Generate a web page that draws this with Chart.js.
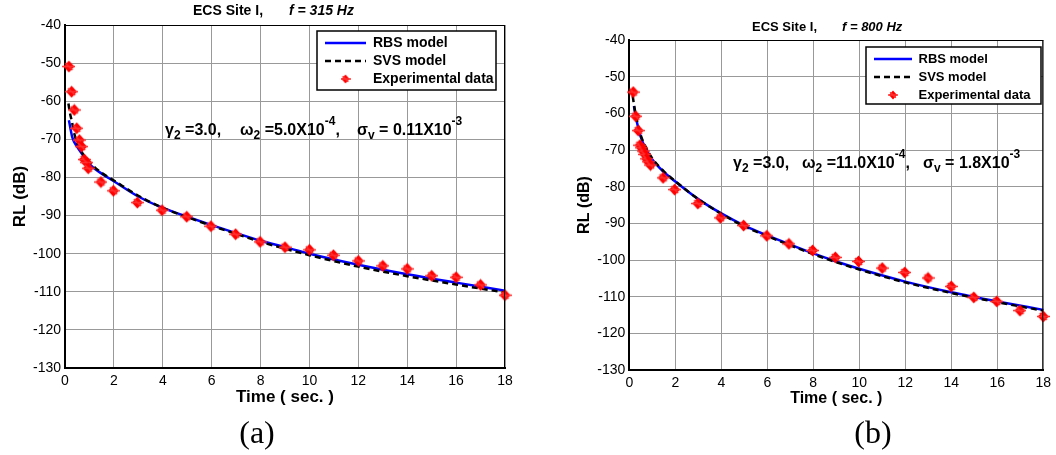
<!DOCTYPE html>
<html>
<head>
<meta charset="utf-8">
<script src="https://cdn.jsdelivr.net/npm/chart.js@4.4.0/dist/chart.umd.min.js"></script>
<style>
  body { margin: 0; background: #fff; }
  #wrap { position: relative; width: 1056px; height: 455px; overflow: hidden;
          font-family: "Liberation Sans", Arial, sans-serif; color: #000; }
  canvas { position: absolute; top: 0; }
  .txt { position: absolute; white-space: pre; font-weight: bold; }
  .sb { font-size: 12px; position: relative; top: 4px; }
  .sp { font-size: 12px; position: relative; top: -10px; }
  .cap { position: absolute; font-family: "Liberation Serif", "Times New Roman", serif;
         font-size: 32px; line-height: 32px; transform: translateX(-50%); }
</style>
</head>
<body>
<div id="wrap">
  <canvas id="chartA" width="528" height="455" style="left:0"></canvas>
  <canvas id="chartB" width="528" height="455" style="left:528px"></canvas>

  <!-- titles -->
  <div class="txt" style="left:193px;top:3px;font-size:14px;line-height:14px">ECS Site I,</div>
  <div class="txt" style="left:289px;top:3px;font-size:14px;line-height:14px;font-style:italic">f = 315 Hz</div>
  <div class="txt" style="left:752px;top:20px;font-size:13px;line-height:13px">ECS Site I,</div>
  <div class="txt" style="left:842px;top:20px;font-size:13px;line-height:13px;font-style:italic">f = 800 Hz</div>

  <!-- parameter notes -->
  <div class="txt" style="left:165px;top:122px;font-size:16px;line-height:16px">γ<span class="sb">2</span> =3.0,</div>
  <div class="txt" style="left:240px;top:122px;font-size:16px;line-height:16px">ω<span class="sb">2</span> =5.0X10<span class="sp">-4</span>,</div>
  <div class="txt" style="left:357px;top:122px;font-size:16px;line-height:16px">σ<span class="sb">v</span> = 0.11X10<span class="sp">-3</span></div>

  <div class="txt" style="left:733px;top:155px;font-size:16px;line-height:16px">γ<span class="sb">2</span> =3.0,</div>
  <div class="txt" style="left:802px;top:155px;font-size:16px;line-height:16px">ω<span class="sb">2</span> =11.0X10<span class="sp">-4</span>,</div>
  <div class="txt" style="left:923px;top:155px;font-size:16px;line-height:16px">σ<span class="sb">v</span> = 1.8X10<span class="sp">-3</span></div>

  <div class="cap" style="left:257px;top:416px">(a)</div>
  <div class="cap" style="left:873px;top:416px">(b)</div>
</div>

<script>
// tick labels
const timeTicks = [0, 2, 4, 6, 8, 10, 12, 14, 16, 18]
const rlTicks = [-130, -120, -110, -100, -90, -80, -70, -60, -50, -40]

// (a) f = 315 Hz
const timeRbsA = [0.16, 0.3, 0.5, 0.75, 1, 1.5, 2, 3, 4, 5, 6, 7, 8, 9, 10, 12, 14, 16, 18]
const rbsA = [-65, -69.5, -72, -74.3, -76.5, -79, -81, -85, -88, -90.3, -92.5, -94.6, -96.6, -98.3, -100, -102.9, -105.4, -107.6, -109.7]
const timeSvsA = [0.14, 0.2, 0.27, 0.4, 0.5, 0.75, 1, 1.5, 2, 3, 4, 5, 6, 7, 8, 9, 10, 12, 14, 16, 18]
const svsA = [-60.6, -63, -65, -69, -71, -74, -76, -78.8, -80.8, -84.8, -88, -90.4, -92.7, -94.8, -96.9, -98.7, -100.4, -103.4, -105.9, -108.1, -110.2]
const timeExpA = [0.16, 0.27, 0.38, 0.48, 0.59, 0.68, 0.79, 0.89, 0.95, 1.47, 1.98, 2.96, 3.97, 4.98, 5.97, 6.98, 7.98, 9, 10, 10.98, 12, 13, 14, 15, 16, 17, 18]
const expA = [-50.9, -57.5, -62.3, -67.1, -70.2, -71.9, -75.3, -76.1, -77.6, -81.2, -83.5, -86.6, -88.6, -90.3, -92.8, -94.9, -96.9, -98.3, -99.0, -100.4, -101.9, -103.2, -104.0, -105.8, -106.2, -108.2, -110.9]

// (b) f = 800 Hz
const timeRbsB = [0.2, 0.3, 0.5, 0.75, 1, 1.5, 2, 3, 4, 5, 6, 7, 8, 9, 10, 12, 14, 16, 18]
const rbsB = [-58, -61.5, -66.5, -70, -72.6, -76, -78.6, -83.4, -87.3, -90.6, -93.3, -95.8, -98.2, -100.4, -102.4, -105.9, -108.8, -111.3, -113.6]
const timeSvsB = [0.15, 0.2, 0.3, 0.5, 0.75, 1, 1.5, 2, 3, 4, 5, 6, 7, 8, 9, 10, 12, 14, 16, 18]
const svsB = [-55.3, -57.5, -61, -66, -69.6, -72.3, -75.8, -78.5, -83.4, -87.4, -90.8, -93.5, -96, -98.4, -100.6, -102.6, -106.1, -109, -111.5, -113.8]
const timeExpB = [0.17, 0.28, 0.39, 0.46, 0.53, 0.6, 0.68, 0.75, 0.82, 0.92, 1.47, 1.97, 2.98, 3.96, 4.97, 5.98, 6.94, 7.97, 8.96, 9.97, 11, 11.98, 12.99, 14, 14.98, 15.98, 16.99, 18]
const expB = [-54.2, -60.8, -64.7, -68.7, -69.4, -70.3, -71.2, -72.4, -73.2, -74.1, -77.6, -80.8, -84.6, -88.5, -90.6, -93.4, -95.6, -97.4, -99.3, -100.4, -102.2, -103.4, -104.9, -107.2, -110.2, -111.3, -113.8, -115.4]


Chart.defaults.font.family = '"Liberation Sans", Arial, sans-serif'
Chart.defaults.color = '#000'

function pts(xs, ys){
    return xs.map((x, i) => ({x: x, y: ys[i]}))
}

// red diamond marker, like the matlab one
function make_marker(size){
    let c = document.createElement("canvas")
    c.width = size
    c.height = size
    let g = c.getContext("2d")
    let m = size / 2
    g.fillStyle = "#ff0000"
    g.beginPath()
    g.moveTo(m, 0.5)
    g.lineTo(size - 1, m)
    g.lineTo(m, size - 0.5)
    g.lineTo(1, m)
    g.closePath()
    g.fill()
    g.strokeStyle = "#ff3030"
    g.lineWidth = 1.5
    g.beginPath()
    g.moveTo(0, m)
    g.lineTo(size, m)
    g.moveTo(m * 0.45, m * 0.45)
    g.lineTo(size - m * 0.45, size - m * 0.45)
    g.stroke()
    return c
}
const marker = make_marker(13)
const legendMarker = make_marker(10)

// moves the legend to the top right of the plot, gives it a white box, draws the axes frame
const framePlugin = {
    id: "frame",
    afterUpdate(chart, args, opts){
        let lg = chart.legend
        let w = lg.width, h = lg.height
        lg.left = opts.legendX
        lg.right = lg.left + w + 20
        lg.top = opts.legendY
        lg.bottom = lg.top + h
    },
    beforeDatasetsDraw(chart, args, opts){
        let ctx = chart.ctx
        let b = opts.legendBox
        ctx.save()
        ctx.fillStyle = "#fff"
        ctx.fillRect(b[0], b[1], b[2], b[3])
        ctx.restore()
        chart.legend.draw(chart.chartArea)
        ctx.save()
        ctx.strokeStyle = "#000"
        ctx.lineWidth = 1.5
        ctx.strokeRect(b[0], b[1], b[2], b[3])
        ctx.restore()
    },
    afterDraw(chart){
        let ctx = chart.ctx
        let a = chart.chartArea
        ctx.save()
        ctx.strokeStyle = "#000"
        ctx.lineWidth = 1
        ctx.beginPath()
        ctx.moveTo(a.left, a.top + 0.5)
        ctx.lineTo(a.right, a.top + 0.5)
        ctx.moveTo(a.right - 0.5, a.top)
        ctx.lineTo(a.right - 0.5, a.bottom)
        ctx.stroke()
        ctx.restore()
    }
}

function setup_chart(id, d, s){
    let canvas = document.querySelector(id)
    return new Chart(canvas, {
        type: 'line',
        data: {
            datasets: [{
                label: 'RBS model',
                data: pts(d.tRbs, d.rbs),
                borderColor: '#0000ff',
                borderWidth: 2.5,
                pointRadius: 0,
                cubicInterpolationMode: 'monotone',
                clip: false,
                order: 3
            }, {
                label: 'SVS model',
                data: pts(d.tSvs, d.svs),
                borderColor: '#000000',
                borderWidth: 2.5,
                borderDash: [6, 4],
                pointRadius: 0,
                cubicInterpolationMode: 'monotone',
                clip: false,
                order: 2
            }, {
                label: 'Experimental data',
                data: pts(d.tExp, d.exp),
                showLine: false,
                pointStyle: marker,
                pointRadius: 6,
                borderColor: '#ff0000',
                backgroundColor: '#ff0000',
                clip: false,
                order: 1
            }]
        },
        options: {
            responsive: false,
            animation: false,
            events: [],
            layout: {
                padding: {left: s.padLeft, right: s.padRight, top: s.top, bottom: 0}
            },
            scales: {
                x: {
                    type: 'linear',
                    min: timeTicks[0],
                    max: timeTicks[timeTicks.length - 1],
                    afterBuildTicks: (sc) => { sc.ticks = timeTicks.map(v => ({value: v})) },
                    afterFit: (sc) => { sc.height = 455 - s.bottom },
                    grid: {color: '#999999', lineWidth: 1, drawTicks: false},
                    border: {display: true, color: '#000', width: 2},
                    ticks: {color: '#000', font: {size: 14}, padding: 5, maxRotation: 0},
                    title: {
                        display: true,
                        text: 'Time ( sec. )',
                        color: '#000',
                        font: {size: s.titleSize, weight: 'bold'},
                        padding: {top: 0, bottom: 47}
                    }
                },
                y: {
                    type: 'linear',
                    min: rlTicks[0],
                    max: rlTicks[rlTicks.length - 1],
                    afterBuildTicks: (sc) => { sc.ticks = rlTicks.map(v => ({value: v})) },
                    afterFit: (sc) => { sc.width = s.yWidth },
                    grid: {color: '#999999', lineWidth: 1, drawTicks: false},
                    border: {display: true, color: '#000', width: 2},
                    ticks: {color: '#000', font: {size: 14}, padding: 4},
                    title: {
                        display: true,
                        text: 'RL (dB)',
                        color: '#000',
                        font: {size: s.titleSize, weight: 'bold'},
                        padding: {top: s.yTitlePad, bottom: 0}
                    }
                }
            },
            plugins: {
                tooltip: {enabled: false},
                legend: {
                    position: 'chartArea',
                    align: 'start',
                    labels: {
                        usePointStyle: true,
                        pointStyleWidth: s.lineSample,
                        padding: s.legendPad,
                        color: '#000',
                        font: {size: s.legendSize, weight: 'bold'},
                        generateLabels: (chart) => chart.data.datasets.map((ds, i) => ({
                            text: ds.label,
                            fillStyle: ds.backgroundColor || ds.borderColor,
                            strokeStyle: ds.borderColor,
                            lineWidth: ds.borderWidth || 0,
                            lineDash: ds.borderDash || [],
                            pointStyle: ds.showLine === false ? legendMarker : 'line',
                            fontColor: '#000',
                            hidden: false,
                            datasetIndex: i
                        }))
                    }
                },
                frame: {
                    legendX: s.legendX,
                    legendY: s.legendY,
                    legendBox: s.legendBox
                }
            }
        },
        plugins: [framePlugin]
    })
}

setup_chart("#chartA",
    {tRbs: timeRbsA, rbs: rbsA, tSvs: timeSvsA, svs: svsA, tExp: timeExpA, exp: expA},
    {padLeft: 0, yWidth: 65, padRight: 23, top: 25, bottom: 368, titleSize: 17, yTitlePad: 10,
     legendX: 321, legendY: 32, legendBox: [317, 31, 179, 59], lineSample: 41, legendPad: 4, legendSize: 14})

setup_chart("#chartB",
    {tRbs: timeRbsB, rbs: rbsB, tSvs: timeSvsB, svs: svsB, tExp: timeExpB, exp: expB},
    {padLeft: 35, yWidth: 66.3, padRight: 10, top: 40, bottom: 370, titleSize: 16, yTitlePad: 12,
     legendX: 341, legendY: 47.5, legendBox: [338, 47, 175, 57], lineSample: 38, legendPad: 5, legendSize: 13})
</script>
</body>
</html>
